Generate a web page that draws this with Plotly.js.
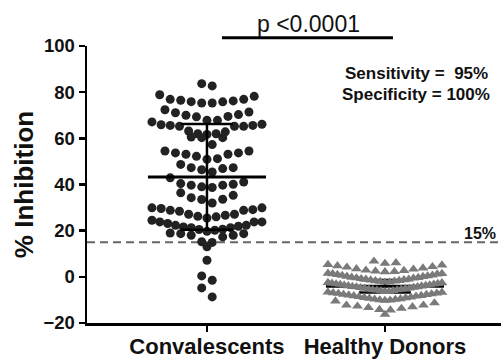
<!DOCTYPE html>
<html><head><meta charset="utf-8">
<script src="https://cdn.plot.ly/plotly-3.0.1.min.js"></script>
<style>html,body{margin:0;padding:0;background:#fff}#chart{width:501px;height:359px}</style>
</head><body><div id="chart"></div>
<script>
// ---------- data ----------
const groups = ['Convalescents', 'Healthy Donors'];
const convalescents = [83.7, 82.7,
  78.9, 78.2, 76.9, 76.9, 76.5, 76.2, 75.9, 75.8, 75.3, 75.3,
  72.4, 71.4, 71.1, 70.0, 70.3, 69.5, 69.3, 67.8, 67.8, 67.1, 66.1, 65.9, 65.6, 65.6,
  65.2, 65.2, 65.2, 63.2, 62.8, 62.0, 62.0, 61.7, 60.6, 60.3, 60.3,
  57.3, 54.5, 54.5, 53.7, 53.7, 53.1, 53.1, 52.2, 51.2, 50.9,
  48.7, 47.3, 47.3, 46.9, 46.4, 45.4,
  42.9, 41.1, 40.4, 40.1, 39.7, 39.7, 39.0, 38.7,
  36.4, 35.3, 34.3, 33.6, 33.5, 32.0,
  29.9, 29.9, 29.6, 29.1, 28.8, 28.8, 28.4, 27.1, 27.1, 26.7, 26.2, 26.0, 25.5,
  24.5, 23.8, 23.8, 23.8, 23.1, 22.3, 22.3, 21.9, 21.6, 21.3, 21.3, 20.6, 20.5, 20.2, 19.7,
  19.0, 18.7, 18.7, 18.0, 18.0, 17.3,
  15.2, 14.9, 13.0, 7.2, 0.4, -1.5, -4.8, -8.7];
const healthyDonors = [6.8, 6.1, 5.8,
  5.3, 5.1, 4.8, 4.4, 4.2, 3.8, 3.5, 3.3, 2.9, 2.7, 2.5, 2.3, 2.2,
  1.5, 1.4, 1.3, 1.2, 1.0, 0.7, 0.6, 0.4, 0.2, 0.1, -0.2, -0.3, -0.5,
  -0.6, -0.8, -1.0, -1.1, -1.3, -1.4, -1.6, -1.7, -1.9, -2.0, -2.2, -2.3, -2.5,
  -2.6, -2.8, -2.9, -3.1, -3.2, -3.3, -3.5, -3.6, -3.8, -3.9, -4.0, -4.2, -4.3,
  -4.4, -4.6, -4.7, -4.9, -5.0, -5.1, -5.3, -5.4, -5.6, -5.7, -5.8, -6.0, -6.1,
  -6.3, -6.4, -6.6, -6.7, -6.9, -7.1, -7.2, -7.4, -7.6, -7.7, -7.9, -8.1, -8.2,
  -8.4, -8.6, -8.8, -9.0, -9.1, -9.3, -9.5, -9.7, -9.8, -10.0, -10.1, -10.2,
  -10.5, -11.3, -12.3, -12.3, -12.7, -13.0, -13.3, -13.7, -14.2, -14.4, -16.3];
const groupMean = [43.3, -4.1];
const groupSD = [22.9, 2.7];
const cutoff = [15];
const cutoffLabel = ['15%'];
const pLabel = ['p <0.0001'];
const statLines = ['Sensitivity =  95%', 'Specificity = 100%'];
const yTicks = [-20, 0, 20, 40, 60, 80, 100];
const yTitle = '% Inhibition';

// ---------- layout geometry ----------
const W = 501, H = 359, M = {l: 87, r: 0, t: 46, b: 36};
const plotW = W - M.l - M.r, plotH = H - M.t - M.b;
const xRange = [-0.674, 1.652];
const yRange = [-20, 100];
const pxX = plotW / (xRange[1] - xRange[0]);
const pxY = plotH / (yRange[1] - yRange[0]);
const FONT = 'Liberation Sans, Arial, sans-serif';

// row-based scatter-dot arrangement: values binned into horizontal rows,
// each row sorted ascending and laid out centre-out; wide rows compressed.
function scatterDots(values, center, binW, anchor, spacingPx, maxHalfPx) {
  const bins = new Map();
  values.forEach(v => {
    const b = Math.floor((v - anchor) / binW);
    if (!bins.has(b)) bins.set(b, []);
    bins.get(b).push(v);
  });
  const xs = [], ys = [];
  for (const vals of bins.values()) {
    vals.sort((a, b) => a - b);
    const n = vals.length;
    const d = n > 1 ? Math.min(spacingPx, 2 * maxHalfPx / (n - 1)) : 0;
    vals.forEach((v, i) => {
      let k;
      if (n % 2 === 1) k = i === 0 ? 0 : (i % 2 === 1 ? (i + 1) / 2 : -(i / 2));
      else { const j = Math.floor(i / 2); k = (i % 2 === 0 ? 1 : -1) * (j + 0.5); }
      xs.push(center + k * d / pxX); ys.push(v);
    });
  }
  return {xs, ys};
}

const s0 = scatterDots(convalescents, 0, 6, 1.5, 10.5, 55);
const s1 = scatterDots(healthyDonors, 1, 4, 1.55, 11, 57);

const traces = [
  {type: 'scatter', mode: 'markers', x: s0.xs, y: s0.ys, name: groups[0],
   marker: {symbol: 'circle', size: 9, color: '#222222'}, hoverinfo: 'y'},
  {type: 'scatter', mode: 'markers', x: s1.xs, y: s1.ys, name: groups[1],
   marker: {symbol: 'triangle-up', size: 9.5, color: '#7a7a7a'}, hoverinfo: 'y'}
];

const shapes = [];
shapes.push({type: 'line', xref: 'paper', x0: 0, x1: 1, yref: 'y', y0: cutoff[0], y1: cutoff[0],
  line: {color: '#666666', width: 2, dash: '8px,5px'}, layer: 'below'});
groups.forEach((g, i) => {
  const layer = i === 0 ? 'above' : 'below';
  const ln = {color: '#000', width: 2.5};
  const hw = 59 / pxX, cw = 26 / pxX;
  const m = groupMean[i], sd = groupSD[i];
  shapes.push({type: 'line', x0: i - hw, x1: i + hw, y0: m, y1: m, line: {color: '#000', width: 3}, layer});
  shapes.push({type: 'line', x0: i, x1: i, y0: m - sd, y1: m + sd, line: ln, layer});
  shapes.push({type: 'line', x0: i - cw, x1: i + cw, y0: m + sd, y1: m + sd, line: ln, layer});
  shapes.push({type: 'line', x0: i - cw, x1: i + cw, y0: m - sd, y1: m - sd, line: ln, layer});
});
shapes.push({type: 'line', xref: 'paper', yref: 'paper', x0: (222 - M.l) / plotW, x1: (393 - M.l) / plotW,
  y0: 1 + (M.t - 37.7) / plotH, y1: 1 + (M.t - 37.7) / plotH, line: {color: '#000', width: 3}});

const annotations = [
  {xref: 'paper', yref: 'paper', x: (308 - M.l) / plotW, y: 1 + (M.t - 24) / plotH,
   text: pLabel[0], showarrow: false, xanchor: 'center', yanchor: 'middle',
   font: {family: FONT, size: 23, color: '#111'}},
  {xref: 'paper', yref: 'paper', x: (490 - M.l) / plotW, y: 1 - (73 - M.t) / plotH,
   text: statLines[0], showarrow: false, xanchor: 'right', yanchor: 'middle',
   font: {family: FONT, size: 17, color: '#111', weight: 'bold'}},
  {xref: 'paper', yref: 'paper', x: (492 - M.l) / plotW, y: 1 - (95 - M.t) / plotH,
   text: statLines[1], showarrow: false, xanchor: 'right', yanchor: 'middle',
   font: {family: FONT, size: 17, color: '#111', weight: 'bold'}},
  {xref: 'paper', yref: 'y', x: (480 - M.l) / plotW, y: cutoff[0], yshift: 9,
   text: cutoffLabel[0], showarrow: false, xanchor: 'center', yanchor: 'middle',
   font: {family: FONT, size: 16, color: '#111', weight: 'bold'}}
];

const layout = {
  width: W, height: H, margin: M, showlegend: false,
  paper_bgcolor: '#fff', plot_bgcolor: '#fff',
  font: {family: FONT, color: '#111'},
  xaxis: {range: xRange, tickmode: 'array', tickvals: [0, 1], ticktext: groups,
    showline: true, linecolor: '#000', linewidth: 2.5, ticks: 'outside', ticklen: 6, tickwidth: 2.5,
    tickcolor: '#000', showgrid: false, zeroline: false, automargin: false, ticklabelstandoff: -4,
    tickfont: {family: FONT, size: 22, color: '#111', weight: 700}},
  yaxis: {range: yRange, tickmode: 'array', tickvals: yTicks,
    showline: true, linecolor: '#000', linewidth: 2.5, ticks: 'outside', ticklen: 6, tickwidth: 2.5,
    tickcolor: '#000', showgrid: false, zeroline: false, automargin: false,
    tickfont: {family: FONT, size: 18.5, color: '#111', weight: 700},
    title: {text: yTitle, standoff: 3, font: {family: FONT, size: 26, color: '#111', weight: 700}}},
  shapes, annotations
};

Plotly.newPlot('chart', traces, layout, {displayModeBar: false, staticPlot: true});
</script>
</body></html>
